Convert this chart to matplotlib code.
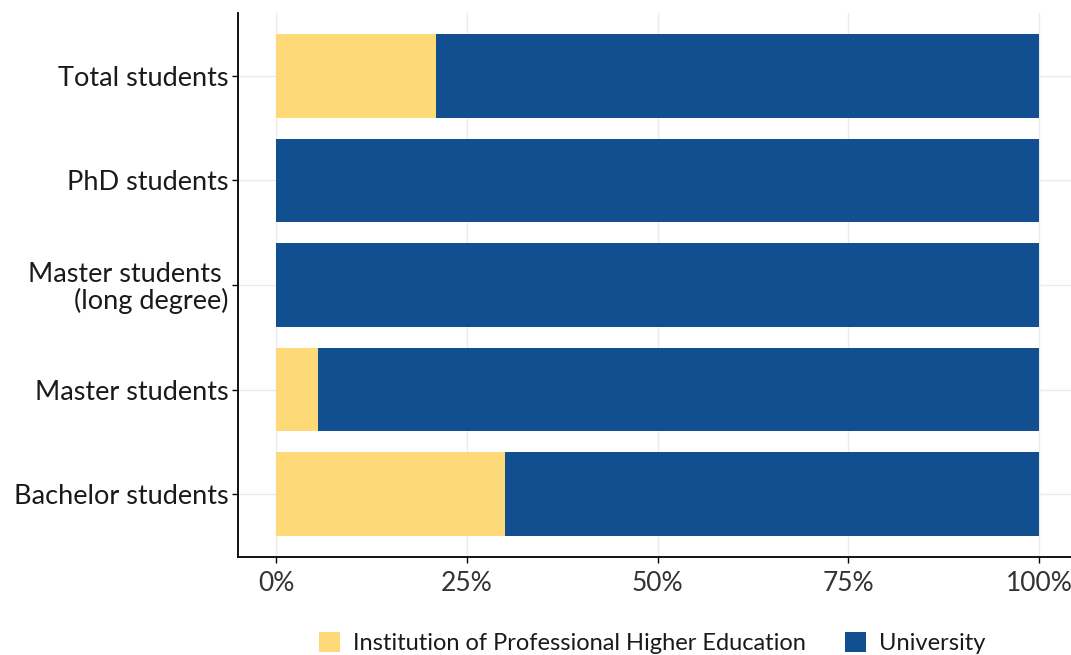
import numpy as np
import matplotlib.pyplot as plt
from matplotlib.ticker import PercentFormatter
from matplotlib.patches import Patch

plt.rcParams['font.family'] = ['Lato', 'DejaVu Sans']

# data (share of students per institution type)
categories = ['Bachelor students', 'Master students', 'Master students \n(long degree)',
              'PhD students', 'Total students']
share_iphe = [0.30, 0.055, 0.0, 0.0, 0.21]
share_uni = [1 - v for v in share_iphe]
legend_labels = ['Institution of Professional Higher Education', 'University']
colors = ['#FDD978', '#124F91']

fig = plt.figure(figsize=(10.71, 6.55), dpi=100)
ax = fig.add_axes([238 / 1071, 1 - 557 / 655, (1077 - 238) / 1071, (557 - 13) / 655])

y = np.arange(1, len(categories) + 1)
ax.barh(y, share_iphe, height=0.8, color=colors[0], zorder=2)
ax.barh(y, share_uni, left=share_iphe, height=0.8, color=colors[1], zorder=2)

ax.set_xlim(-0.05, 1.05)
ax.set_ylim(0.4, 5.6)
ax.set_yticks(y)
ax.set_yticklabels(categories, fontsize=19.5, color='#1a1a1a', ha='right',
                   multialignment='right', linespacing=1.05)
ax.set_xticks([0, 0.25, 0.5, 0.75, 1.0])
ax.xaxis.set_major_formatter(PercentFormatter(1.0, decimals=0))
ax.tick_params(axis='x', labelsize=19, labelcolor='#333333', length=4, width=1, pad=6)
ax.tick_params(axis='y', length=4, width=1, pad=3)
ax.grid(True, color='#ebebeb', linewidth=1, zorder=0)
for s in ['top', 'right']:
    ax.spines[s].set_visible(False)
for s in ['left', 'bottom']:
    ax.spines[s].set_linewidth(1.3)
    ax.spines[s].set_color('black')

handles = [Patch(facecolor=c, label=l) for c, l in zip(colors, legend_labels)]
fig.legend(handles=handles, loc='center', bbox_to_anchor=(0.609, 1 - 643 / 655), ncol=2,
           frameon=False, fontsize=17, handlelength=0.9, handleheight=0.95,
           columnspacing=1.65, handletextpad=0.55, labelcolor='#1a1a1a')

fig.savefig('out.png', dpi=100)
